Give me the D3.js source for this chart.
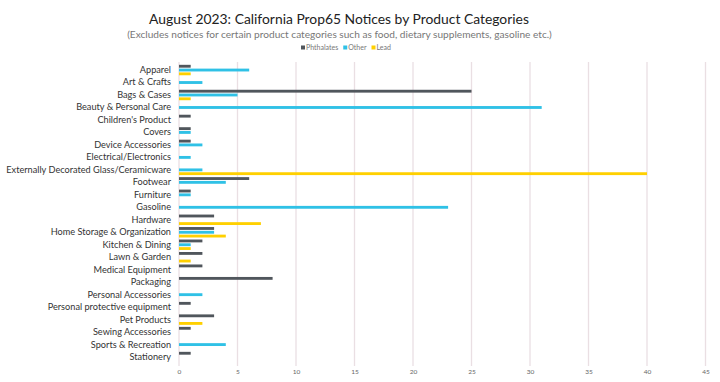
<!DOCTYPE html>
<html><head><meta charset="utf-8">
<script src="https://cdn.jsdelivr.net/npm/d3@7"></script>
<style>body{margin:0;background:#fff;} svg{display:block;}</style>
</head><body>
<script>
const categories = ["Apparel","Art & Crafts","Bags & Cases","Beauty & Personal Care","Children's Product","Covers","Device Accessories","Electrical/Electronics","Externally Decorated Glass/Ceramicware","Footwear","Furniture","Gasoline","Hardware","Home Storage & Organization","Kitchen & Dining","Lawn & Garden","Medical Equipment","Packaging","Personal Accessories","Personal protective equipment","Pet Products","Sewing Accessories","Sports & Recreation","Stationery"];
const phthalates = [1,0,25,0,1,1,1,0,0,6,1,0,3,3,2,2,2,8,0,1,3,1,0,1];
const other      = [6,2,5,31,0,1,2,1,2,4,1,23,0,3,1,0,0,0,2,0,0,0,4,0];
const lead       = [1,0,1,0,0,0,0,0,40,0,0,0,7,4,1,1,0,0,0,0,2,0,0,0];
const seriesNames = ["Phthalates","Other","Lead"];
const seriesColors = ["#50565c","#2fc1e6","#ffd000"];
const xTicks = [0,5,10,15,20,25,30,35,40,45];

const W=720,H=382;
const svg=d3.select("body").append("svg").attr("width",W).attr("height",H);
const font="Lato, 'Noto Sans', sans-serif";

function fitWidth(sel, target, size){
  sel.attr("font-size",size+"px");
  const w=sel.node().getComputedTextLength();
  sel.attr("font-size",(size*target/w).toFixed(2)+"px");
}

const x=d3.scaleLinear().domain([0,45]).range([179,705.5]);
const y=d3.scaleBand().domain(categories).range([63.8,363.3]).padding(0);
const y1=d3.scaleBand().domain(seriesNames).range([0,y.bandwidth()]).paddingInner(0.25).paddingOuter(0.267);

// gridlines
svg.append("g").selectAll("line").data(xTicks).join("line")
  .attr("x1",d=>x(d)).attr("x2",d=>x(d)).attr("y1",62).attr("y2",366)
  .attr("stroke","#eadfe3").attr("stroke-width",1.3);

// bars
const seriesData=[phthalates,other,lead];
seriesData.forEach((vals,si)=>{
  svg.append("g").selectAll("rect").data(categories).join("rect")
    .attr("x",x(0))
    .attr("y",d=>y(d)+y1(seriesNames[si]))
    .attr("width",(d,i)=>x(vals[i])-x(0))
    .attr("height",y1.bandwidth())
    .attr("fill",seriesColors[si]);
});

// y axis labels
const yAxis=d3.axisLeft(y).tickSize(0).tickPadding(0);
const gy=svg.append("g").attr("transform","translate(171,0)").call(yAxis);
gy.select(".domain").remove();
gy.selectAll("text").attr("font-family",font).attr("fill","#333");
const longest=gy.selectAll("text").filter(d=>d==="Externally Decorated Glass/Ceramicware");
fitWidth(longest,165,10);
const lblSize=longest.attr("font-size");
gy.selectAll("text").attr("font-size",lblSize);
gy.attr("font-size",null);

// x axis labels
const xAxis=d3.axisBottom(x).tickValues(xTicks).tickSize(0).tickPadding(0);
const gx=svg.append("g").attr("transform","translate(0,369)").call(xAxis);
gx.select(".domain").remove();
gx.selectAll("text").attr("font-family",font).attr("font-size","6.5px").attr("fill","#666");

// title
const t=svg.append("text").attr("x",339).attr("y",24).attr("text-anchor","middle")
  .attr("font-family",font).attr("fill","#222")
  .text("August 2023: California Prop65 Notices by Product Categories");
fitWidth(t,380,15);
const st=svg.append("text").attr("x",339.5).attr("y",38).attr("text-anchor","middle")
  .attr("font-family",font).attr("fill","#777")
  .text("(Excludes notices for certain product categories such as food, dietary supplements, gasoline etc.)");
fitWidth(st,425,11);

// legend
const lg=svg.append("g");
let lx=301;
seriesNames.forEach((s,i)=>{
  lg.append("rect").attr("x",lx).attr("y",45.5).attr("width",4).attr("height",4).attr("fill",seriesColors[i]);
  const tx=lg.append("text").attr("x",lx+5).attr("y",50).attr("font-family",font)
    .attr("font-size","7px").attr("fill","#777").text(s);
  lx += 5 + tx.node().getComputedTextLength() + 5;
});
</script>
</body></html>
